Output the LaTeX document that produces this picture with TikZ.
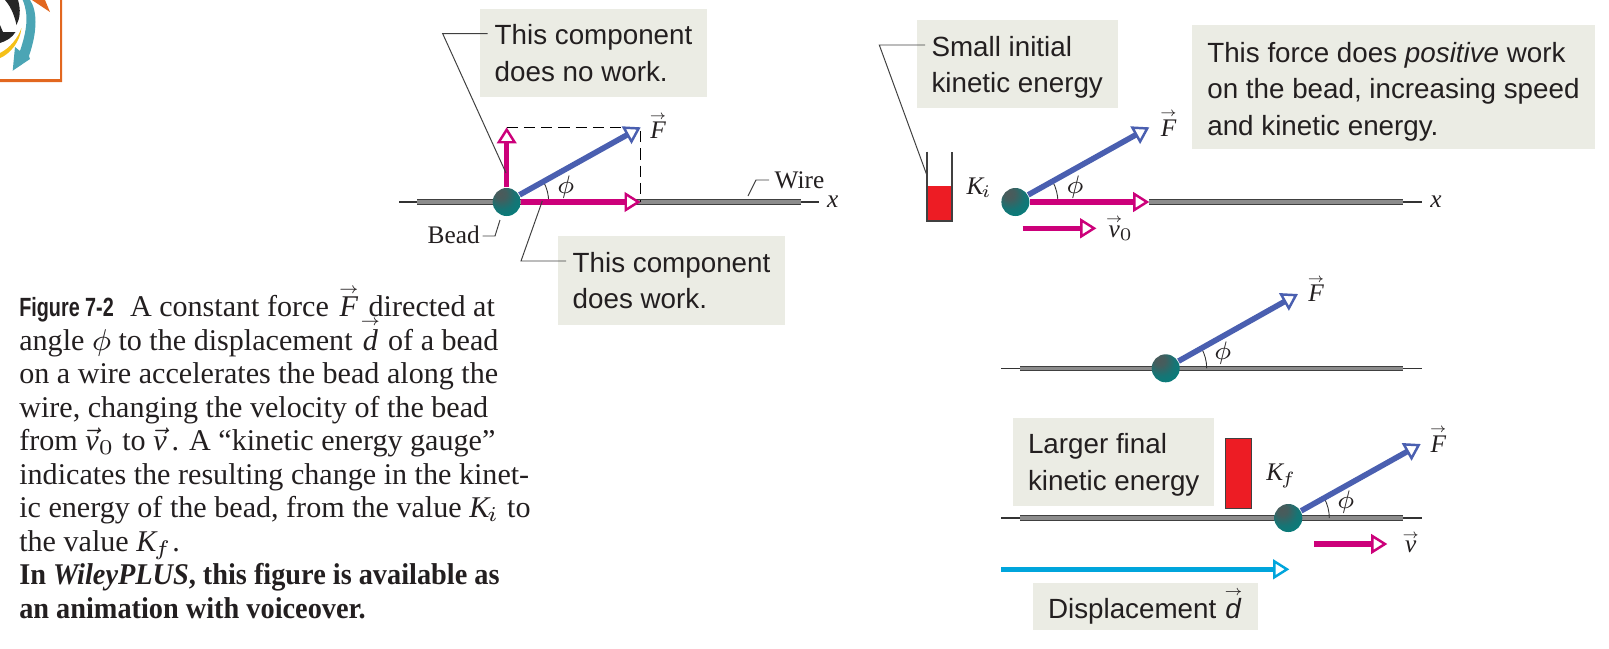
\documentclass[tikz,border=0pt]{standalone}
\usepackage{fix-cm}
\usepackage{amsmath}
\usepackage{fontspec}
\setmainfont{Liberation Serif}
\newfontfamily\labelfont{Liberation Sans}
\newfontfamily\figfont[FakeStretch=0.75]{Liberation Sans}
\newfontfamily\capbold[FakeStretch=0.94]{Liberation Serif}
\usepackage{tikz}
\usetikzlibrary{arrows.meta,positioning}
\definecolor{inktext}{HTML}{231F20}
\definecolor{calloutgray}{HTML}{EBECE4}
\definecolor{vecmagenta}{HTML}{CC007A}
\definecolor{vecblue}{HTML}{4A5FB0}
\definecolor{veccyan}{HTML}{00A5DC}
\definecolor{gaugered}{HTML}{ED1C24}
\definecolor{logoorange}{HTML}{E2671F}
\definecolor{logoteal}{HTML}{4BA5B5}
\definecolor{logoyellow}{HTML}{F5C018}
\pgfdeclareradialshading{beadball}{\pgfpoint{-12bp}{16bp}}{
  color(0bp)=(rgb:red,0.66;green,0.78;blue,0.78);
  color(10bp)=(rgb:red,0.50;green,0.70;blue,0.70);
  color(25bp)=(rgb:red,0.10;green,0.52;blue,0.52);
  color(45bp)=(rgb:red,0.0;green,0.50;blue,0.49);
  color(62bp)=(rgb:red,0.0;green,0.40;blue,0.38);
  color(100bp)=(rgb:red,0.0;green,0.38;blue,0.36)}
\newcommand{\arrowover}[1]{\overset{\raisebox{-1.4pt}{$\scriptscriptstyle\rightarrow$}}{#1}}
\newcommand{\vecit}[1]{\arrowover{\mathit{#1}}}
\tikzset{
    every node/.style={
    text=inktext
    },
    callout/.style={
    rectangle,fill=calloutgray,align=left,inner xsep=0.15cm,inner ysep=0pt,
    minimum height=#1,anchor=west,
    font=\fontsize{7.9}{10.4}\selectfont\labelfont
    },
    caption/.style={
    align=left,inner sep=0pt,
    font=\fontsize{8.56}{9.52}\selectfont
    },
    symbol/.style={
    inner sep=0pt,font=\fontsize{7.2}{9}\selectfont
    },
    bead/.style={
    circle,shading=beadball,inner sep=0pt,minimum size=0.28cm
    },
    thinwire/.style={
    draw=black!80,line width=0.35pt
    },
    wire/.style={
    draw=black!75,double=black!45,line width=0.3pt,double distance=0.9pt
    },
    leader/.style={
    draw=black!75,line width=0.28pt
    },
    anglearc/.style={
    draw=black!80,line width=0.25pt
    },
    construct/.style={
    draw=black,line width=0.4pt,dash pattern=on 3.2pt off 1.7pt
    },
    forcevec/.style={
    draw=vecblue,line width=1.6pt,
    -{Triangle[open,fill=white,length=4.6pt,width=5.6pt,line width=0.7pt]}
    },
    compvec/.style={
    draw=vecmagenta,line width=1.55pt,
    -{Triangle[open,fill=white,length=4.6pt,width=5.6pt,line width=0.7pt]}
    },
    dispvec/.style={
    draw=veccyan,line width=1.3pt,
    -{Triangle[open,fill=white,length=4.6pt,width=5.6pt,line width=0.7pt]}
    },
    gaugebar/.style={
    rectangle,fill=gaugered,inner sep=0pt
    },
    gaugewall/.style={
    draw=black!75,line width=0.4pt
    },
}
\begin{document}
\begin{tikzpicture}[x=0.01cm,y=-0.01cm]
  \useasboundingbox (0,0) rectangle (1609,648);

  % logo corner
  \fill[logoorange] (0,79) -- (60,79) -- (60,0) -- (62,0) -- (62,82) -- (0,82) -- cycle;
  \fill[logoorange] (32,0) -- (50,12) -- (45,0) -- cycle;
  \fill[black!85] (5,0) -- (18,0) .. controls (21,10) and (20,18) .. (16.5,25) .. controls (15,18) and (12,8) .. (5,0) -- cycle;
  \fill[black!85] (0,25) -- (3,32) -- (15.5,32) .. controls (12,38) and (6,41) .. (0,43) -- cycle;
  \fill[logoyellow] (21.5,28) .. controls (20,42) and (10,54) .. (0,58) -- (0,53) .. controls (10,48) and (18,38) .. (21.5,28) -- cycle;
  \fill[logoteal] (22.7,0) -- (30,0) .. controls (37,10) and (38,30) .. (29,56) -- (30,59) -- (12.7,70.7) -- (15,47) -- (20,51) .. controls (27,30) and (29,15) .. (22.7,0) -- cycle;

  % caption
  \node[caption,anchor=north west] (captiontext) at (18.6,295) {%
    {\fontsize{7.5}{9.52}\selectfont\figfont\bfseries Figure 7-2}\hspace{4.6pt}A constant force\hspace{0.6pt} $\smash{\vecit{F}}$\hspace{0.6pt} directed at\\
    angle $\phi$ to the displacement $\smash{\vecit{d}}$ of a bead\\
    on a wire accelerates the bead along the\\
    wire, changing the velocity of the bead\\
    from $\vec{\mathit{v}}_0$ to $\vec{\mathit{v}}$\,. A “kinetic energy gauge”\\
    indicates the resulting change in the kinet-\\
    ic energy of the bead, from the value ${\mathit{K}\mkern-1.5mu}_i$ to\\
    the value ${\mathit{K}\mkern-1.5mu}_f$.\\
    {\capbold\bfseries In \textit{WileyPLUS}, this figure is available as}\\
    {\capbold\bfseries an animation with voiceover.}};

  % left figure
  \coordinate (w1a) at (399,202);
  \coordinate (w1b) at (417,202);
  \coordinate (w1c) at (800.7,202);
  \coordinate (w1d) at (819,202);
  \draw[thinwire] (w1a) -- (w1b);
  \draw[thinwire] (w1c) -- (w1d);
  \draw[wire] (w1b) -- (w1c);
  \node[bead] (bead1) at (506.7,202) {};
  \coordinate (f1tip) at (640.7,127.3);
  \coordinate (h1tip) at (640.7,202);
  \coordinate (u1tip) at (506.7,127.3);
  \coordinate (c1a) at (548.7,202);
  \draw[construct] (u1tip) -- (f1tip) -- (h1tip);
  \draw[anglearc] (c1a) arc (0:29:0.42cm);
  \draw[compvec] (bead1) -- (u1tip);
  \draw[compvec] (bead1) -- (h1tip);
  \draw[forcevec] (bead1) -- (f1tip);
  \node[symbol,anchor=base] (f1lab) at (658,138.7) {$\vecit{F}$};
  \node[symbol] (phi1) at (565.7,187.5) {$\phi$};
  \node[symbol] (x1lab) at (832.7,201.7) {$\mathit{x}$};
  \node[symbol,anchor=base west] (wirelab) at (774,188) {Wire};
  \node[symbol,anchor=base west] (beadlab) at (427,243) {Bead};

  \node[callout=0.88cm] (nowork) at (479,53) {This component\\does no work.};
  \node[callout=0.89cm] (dowork) at (557,280.5) {This component\\does work.};

  \coordinate (l1a) at (487.7,33.7);
  \coordinate (l1b) at (442.7,33.7);
  \coordinate (l1c) at (506,173);
  \draw[leader] (l1a) -- (l1b) -- (l1c);
  \coordinate (l2a) at (566,261);
  \coordinate (l2b) at (521,261);
  \coordinate (l2c) at (542.3,201);
  \draw[leader] (l2a) -- (l2b) -- (l2c);
  \coordinate (l3a) at (769,180);
  \coordinate (l3b) at (756,180);
  \coordinate (l3c) at (748,196);
  \draw[leader] (l3a) -- (l3b) -- (l3c);
  \coordinate (l4a) at (482.7,236);
  \coordinate (l4b) at (495,236);
  \coordinate (l4c) at (500,220);
  \draw[leader] (l4a) -- (l4b) -- (l4c);

  % top right figure
  \coordinate (w2b) at (1149.3,202);
  \coordinate (w2c) at (1403.3,202);
  \coordinate (w2d) at (1422,202);
  \draw[thinwire] (w2c) -- (w2d);
  \draw[wire] (w2b) -- (w2c);
  \node[bead] (bead2) at (1015.4,202) {};
  \coordinate (f2tip) at (1149.3,127.3);
  \coordinate (c2a) at (1057.9,202);
  \draw[anglearc] (c2a) arc (0:29:0.425cm);
  \draw[compvec] (bead2) -- (w2b);
  \draw[forcevec] (bead2) -- (f2tip);
  \node[symbol,anchor=base] (f2lab) at (1168.6,136) {$\vecit{F}$};
  \node[symbol] (phi2) at (1075,186.7) {$\phi$};
  \node[symbol] (x2lab) at (1436,202) {$\mathit{x}$};
  \coordinate (v0a) at (1022.5,228.3);
  \coordinate (v0b) at (1096.4,228.3);
  \draw[compvec] (v0a) -- (v0b);
  \node[symbol,anchor=base] (v0lab) at (1119.6,237) {${\vecit{v}\mkern-2mu}_0$};

  \node[gaugebar,minimum width=0.25cm,minimum height=0.35cm] (kifill) at (939.3,203.5) {};
  \coordinate (g1a) at (926.8,151.7);
  \coordinate (g1b) at (926.8,221);
  \coordinate (g1c) at (951.8,221);
  \coordinate (g1d) at (951.8,151.7);
  \draw[gaugewall] (g1a) -- (g1b) -- (g1c) -- (g1d);
  \node[symbol,anchor=base west] (kilab) at (966,194) {${\mathit{K}\mkern-1.5mu}_i$};

  \node[callout=0.88cm] (smallke) at (915.8,64) {\rule{0pt}{7.5pt}Small initial\\kinetic energy};
  \node[callout=1.24cm] (posforce) at (1191.6,87) {\rule{0pt}{8.3pt}This force does \textit{positive} work\\on the bead, increasing speed\\and kinetic energy.};
  \coordinate (l5a) at (925,45);
  \coordinate (l5b) at (879.3,45);
  \coordinate (l5c) at (926.8,175);
  \draw[leader] (l5a) -- (l5b) -- (l5c);

  % middle right figure
  \coordinate (w3a) at (1001.3,368.3);
  \coordinate (w3b) at (1020,368.3);
  \coordinate (w3c) at (1403.3,368.3);
  \coordinate (w3d) at (1422,368.3);
  \draw[thinwire] (w3a) -- (w3b);
  \draw[thinwire] (w3c) -- (w3d);
  \draw[wire] (w3b) -- (w3c);
  \node[bead] (bead3) at (1165.7,368.3) {};
  \coordinate (f3tip) at (1298,294);
  \coordinate (c3a) at (1206.7,368.3);
  \draw[anglearc] (c3a) arc (0:29:0.41cm);
  \draw[forcevec] (bead3) -- (f3tip);
  \node[symbol,anchor=base] (f3lab) at (1316,301.7) {$\vecit{F}$};
  \node[symbol] (phi3) at (1222.7,352.7) {$\phi$};

  % bottom right figure
  \coordinate (w4a) at (1001.3,518);
  \coordinate (w4b) at (1020,518);
  \coordinate (w4c) at (1403.3,518);
  \coordinate (w4d) at (1422,518);
  \draw[thinwire] (w4a) -- (w4b);
  \draw[thinwire] (w4c) -- (w4d);
  \draw[wire] (w4b) -- (w4c);
  \node[bead] (bead4) at (1288.3,518) {};
  \coordinate (f4tip) at (1420.7,444);
  \coordinate (c4a) at (1329.3,518);
  \draw[anglearc] (c4a) arc (0:29:0.41cm);
  \draw[forcevec] (bead4) -- (f4tip);
  \node[symbol,anchor=base] (f4lab) at (1438.3,452.3) {$\vecit{F}$};
  \node[symbol] (phi4) at (1345.7,502.3) {$\phi$};
  \coordinate (va) at (1314,544);
  \coordinate (vb) at (1387.3,544);
  \draw[compvec] (va) -- (vb);
  \node[symbol,anchor=base] (vlab) at (1410.7,552.5) {$\vecit{v}$};

  \node[gaugebar,draw=black!75,line width=0.4pt,minimum width=0.26cm,minimum height=0.7cm] (kfbar) at (1238.7,473.3) {};
  \node[symbol,anchor=base west] (kflab) at (1265.7,480.7) {${\mathit{K}\mkern-1.5mu}_f$};
  \node[callout=0.88cm] (largeke) at (1012.3,461.8) {\rule{0pt}{7.5pt}Larger final\\kinetic energy};

  \coordinate (da) at (1001,569.3);
  \coordinate (db) at (1289.3,569.3);
  \draw[dispvec] (da) -- (db);
  \node[callout=0.47cm] (displab) at (1032.3,606.3) {\rule[-2.5pt]{0pt}{0pt}Displacement $\arrowover{\mbox{\textit{d}}}$};
\end{tikzpicture}
\end{document}
